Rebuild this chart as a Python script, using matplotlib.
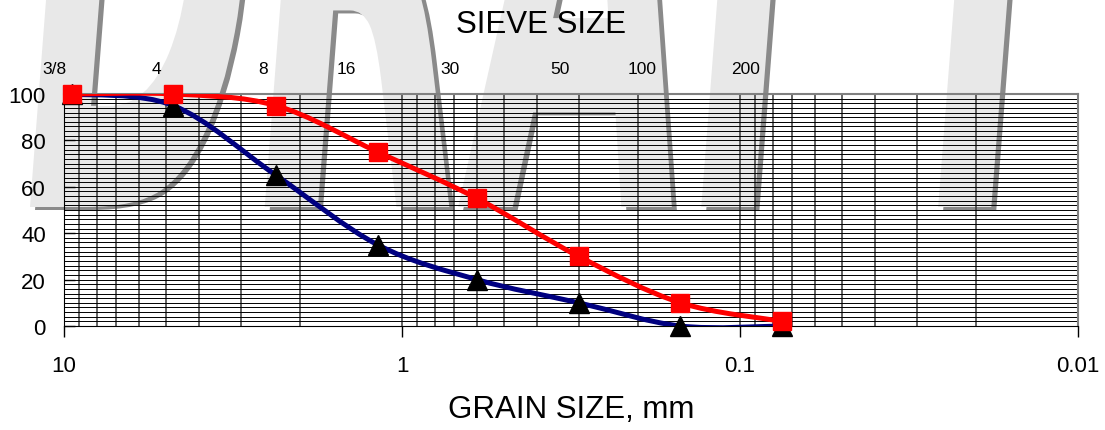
import numpy as np
import matplotlib
matplotlib.use('Agg')
from matplotlib import pyplot as plt
from matplotlib.path import Path
from matplotlib.patches import PathPatch
from matplotlib.textpath import TextPath
from matplotlib.font_manager import FontProperties
from matplotlib.transforms import Affine2D
from matplotlib.ticker import FixedLocator, LogLocator, NullFormatter

plt.rcParams['font.family'] = ['Liberation Sans', 'DejaVu Sans']

# sieve openings (mm) and percent passing
grain_mm = [9.5, 4.75, 2.36, 1.18, 0.6, 0.3, 0.15, 0.075]
pct_red = [100, 100, 95, 75, 55, 30, 10, 2]
pct_blue = [100, 95, 65, 35, 20, 10, 0, 0]

# top axis sieve labels and where they sit (mm)
sieve_labels = ['3/8', '4', '8', '16', '30', '50', '100', '200']
sieve_label_mm = [10.7, 5.31, 2.58, 1.46, 0.72, 0.34, 0.195, 0.0966]

x_ticks = [10, 1, 0.1, 0.01]
x_ticklabels = ['10', '1', '0.1', '0.01']


def smooth_path(xs, ys):
    ''' Excel-like smoothed line as bezier segments in log-x space '''
    u = np.log10(xs)
    v = np.asarray(ys, dtype=float)
    n = len(u)
    verts = [(u[0], v[0])]
    codes = [Path.MOVETO]
    for i in range(n - 1):
        a = max(i - 1, 0)
        b = min(i + 2, n - 1)
        c1 = (u[i] + (u[i + 1] - u[a]) / 6, v[i] + (v[i + 1] - v[a]) / 6)
        c2 = (u[i + 1] - (u[b] - u[i]) / 6, v[i + 1] - (v[b] - v[i]) / 6)
        verts += [c1, c2, (u[i + 1], v[i + 1])]
        codes += [Path.CURVE4] * 3
    verts = [(10 ** p, q) for p, q in verts]
    return Path(verts, codes)


fig = plt.figure(figsize=(11.05, 4.31), dpi=100)
ax = fig.add_axes([64 / 1105, 1 - 327 / 431, (1078 - 64) / 1105, (327 - 95) / 431])
ax.set_facecolor('none')

# DRAFT watermark behind everything
tp = TextPath((0, 0), 'DRAFT', size=100,
              prop=FontProperties(family='DejaVu Sans', weight='bold', style='italic'))
bb = tp.get_extents()
sx = (1100 - 30) / bb.width
sy = 520 / 73.0
base = Affine2D().translate(-bb.x0, 0).scale(sx, sy)
to_fig = Affine2D().scale(1 / fig.dpi) + fig.dpi_scale_trans
shadow = PathPatch(tp, facecolor='#8a8a8a', edgecolor='none', zorder=-3,
                   transform=base + Affine2D().translate(35, 431 - 211) + to_fig)
wm = PathPatch(tp, facecolor='#e8e8e8', edgecolor='none', zorder=-2,
               transform=base + Affine2D().translate(30, 431 - 208) + to_fig)
fig.add_artist(shadow)
fig.add_artist(wm)

ax.set_xscale('log')
ax.set_xlim(10, 0.01)
ax.set_ylim(0, 100)

ax.xaxis.set_major_locator(FixedLocator(x_ticks))
ax.set_xticklabels(x_ticklabels)
ax.xaxis.set_minor_locator(LogLocator(base=10, subs=np.arange(2, 10), numticks=30))
ax.xaxis.set_minor_formatter(NullFormatter())
ax.set_yticks(range(0, 101, 20))
ax.set_yticks(range(0, 101, 2), minor=True)

ax.grid(True, which='both', axis='y', color='black', linewidth=0.7)
ax.grid(True, which='both', axis='x', color='#3a3a3a', linewidth=1.1)
ax.set_axisbelow(True)

ax.tick_params(axis='x', which='major', direction='out', length=8, width=1,
               pad=13, labelsize=16)
ax.tick_params(axis='y', which='major', direction='in', length=8, width=1,
               pad=13, labelsize=16)
ax.tick_params(which='minor', length=0)

for s in ['left', 'bottom']:
    ax.spines[s].set_color('black')
for s in ['top', 'right']:
    ax.spines[s].set_color('#808080')
    ax.spines[s].set_linewidth(1.5)

# curves
ax.add_patch(PathPatch(smooth_path(grain_mm, pct_blue), fill=False,
                       edgecolor='#000080', linewidth=3.6, zorder=3))
ax.plot(grain_mm, pct_blue, linestyle='none', marker='^', markersize=14,
        color='black', zorder=4, clip_on=False)
ax.add_patch(PathPatch(smooth_path(grain_mm, pct_red), fill=False,
                       edgecolor='red', linewidth=3.6, zorder=5))
ax.plot(grain_mm, pct_red, linestyle='none', marker='s', markersize=12.5,
        color='red', zorder=6, clip_on=False)

# sieve numbers along the top
for lab, pos in zip(sieve_labels, sieve_label_mm):
    ax.text(pos, 1.108, lab, transform=ax.get_xaxis_transform(),
            ha='center', va='center', fontsize=12.5)

fig.text(541 / 1105, 1 - 25 / 431, 'SIEVE SIZE', ha='center', va='center', fontsize=22.5)
fig.text(571 / 1105, 1 - 410 / 431, 'GRAIN SIZE, mm', ha='center', va='center', fontsize=22.5)

fig.savefig('out.png', dpi=100, facecolor='white')
